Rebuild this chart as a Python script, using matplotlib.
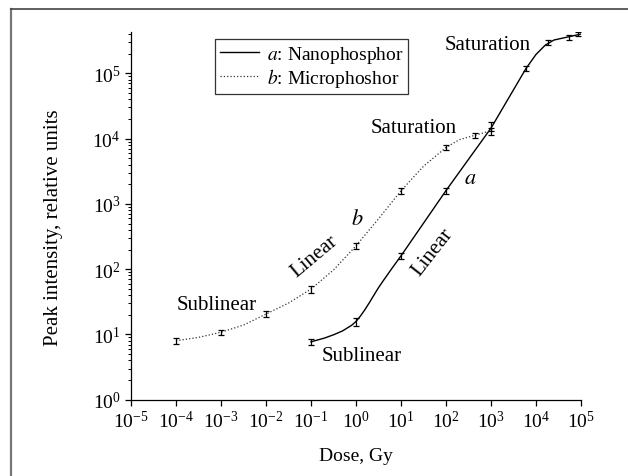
import numpy as np
import matplotlib
matplotlib.use('Agg')
import matplotlib.pyplot as plt
from matplotlib.lines import Line2D

plt.rcParams['font.family'] = ['Liberation Serif', 'DejaVu Serif']
plt.rcParams['mathtext.fontset'] = 'stix'

# measured points (dose in Gy, peak intensity)
dose_a = [0.1, 1, 10, 100, 1000, 6000, 1.8e4, 5.5e4, 8.5e4]
peak_a = [7.7, 15.6, 160, 1600, 15700, 1.19e5, 3.0e5, 3.55e5, 4.0e5]
err_a = [0.12, 0.14, 0.11, 0.1, 0.16, 0.09, 0.1, 0.08, 0.08]

dose_b = [1e-4, 1e-3, 1e-2, 0.1, 1, 10, 100, 450, 1000]
peak_b = [8.0, 10.8, 20.5, 49.6, 228, 1590, 7330, 11300, 13000]
err_b = [0.1, 0.1, 0.1, 0.12, 0.1, 0.1, 0.1, 0.08, 0.12]

# guide curves
curve_a_dose = [0.1, 0.2, 0.32, 0.5, 0.8, 1.0, 1.26, 1.58, 2.0, 2.5, 3.16, 4.0, 6.3, 10,
                100, 1000, 3160, 6000, 1e4, 1.6e4, 2.5e4, 5e4, 1e5]
curve_a_peak = [7.7, 8.8, 9.9, 11.3, 13.8, 15.8, 19.2, 24, 31, 40, 52, 66, 103, 160,
                1600, 14500, 5.6e4, 1.19e5, 1.95e5, 2.7e5, 3.24e5, 3.6e5, 4.0e5]

curve_b_dose = [1e-4, 3.16e-4, 1e-3, 3.16e-3, 1e-2, 3.16e-2, 0.1, 0.316, 1, 3.16,
                10, 31.6, 100, 200, 450, 1000]
curve_b_peak = [8.0, 9.0, 10.8, 13.9, 20.5, 30.2, 49.6, 97, 228, 590,
                1590, 3770, 7330, 9660, 11300, 13200]

fig = plt.figure(figsize=(6.28, 4.77), dpi=100)
ax = fig.add_axes([0.2086, 0.16, 0.7166, 0.7708])

ax.plot(curve_a_dose, curve_a_peak, '-', color='black', lw=1.0,
        label=r'$a$: Nanophosphor')
ax.plot(curve_b_dose, curve_b_peak, ':', color='#333333', lw=0.9,
        label=r'$b$: Microphoshor')

ya = np.array(peak_a) * np.array(err_a)
yb = np.array(peak_b) * np.array(err_b)
ax.errorbar(dose_a, peak_a, yerr=ya, fmt='none', ecolor='black', elinewidth=0.9,
            capsize=2.5, capthick=0.9)
ax.errorbar(dose_b, peak_b, yerr=yb, fmt='none', ecolor='black', elinewidth=0.9,
            capsize=2.5, capthick=0.9)

ax.set_xscale('log')
ax.set_yscale('log')
ax.set_xlim(1e-5, 1e5)
ax.set_ylim(1, 4.3e5)
ax.set_xticks([10.0 ** k for k in range(-5, 6)])
ax.set_yticks([10.0 ** k for k in range(0, 6)])

for s in ['top', 'right']:
    ax.spines[s].set_visible(False)
for s in ['left', 'bottom']:
    ax.spines[s].set_linewidth(0.9)
ax.tick_params(which='major', direction='out', length=4, width=0.9, labelsize=14)
ax.tick_params(which='minor', direction='out', length=2, width=0.7)

ax.set_xlabel('Dose, Gy', fontsize=14)
ax.set_ylabel('Peak intensity, relative units', fontsize=15)
ax.xaxis.set_label_coords(0.5, -0.13)
ax.yaxis.set_label_coords(-0.15, 0.47)

# annotations
fs = 15
ax.text(95, 2.8e5, 'Saturation', fontsize=fs, ha='left', va='center')
ax.text(2.15, 1.5e4, 'Saturation', fontsize=fs, ha='left', va='center')
ax.text(341, 2480, r'$a$', fontsize=fs + 1, ha='center', va='center')
ax.text(1.04, 585, r'$b$', fontsize=fs + 1, ha='center', va='center')
ax.text(0.12, 160, 'Linear', fontsize=fs, ha='center', va='center', rotation=40)
ax.text(50, 183, 'Linear', fontsize=fs, ha='center', va='center', rotation=52)
ax.text(8e-4, 29.2, 'Sublinear', fontsize=fs, ha='center', va='center')
ax.text(1.34, 4.67, 'Sublinear', fontsize=fs, ha='center', va='center')

leg = ax.legend(loc='upper left', bbox_to_anchor=(0.187, 0.981), borderaxespad=0,
                fontsize=14, frameon=True, fancybox=False, handlelength=2.0,
                handletextpad=0.4, borderpad=0.25, labelspacing=0.05)
leg.get_frame().set_edgecolor('black')
leg.get_frame().set_linewidth(0.9)

# outer frame of the scanned page
fig.add_artist(Line2D([11 / 628, 11 / 628], [0, 1 - 10 / 477], transform=fig.transFigure,
                      color='#777777', lw=1.6))
fig.add_artist(Line2D([11 / 628, 1], [1 - 10 / 477, 1 - 10 / 477], transform=fig.transFigure,
                      color='#444444', lw=1.2))

fig.savefig('out.png', dpi=100)
